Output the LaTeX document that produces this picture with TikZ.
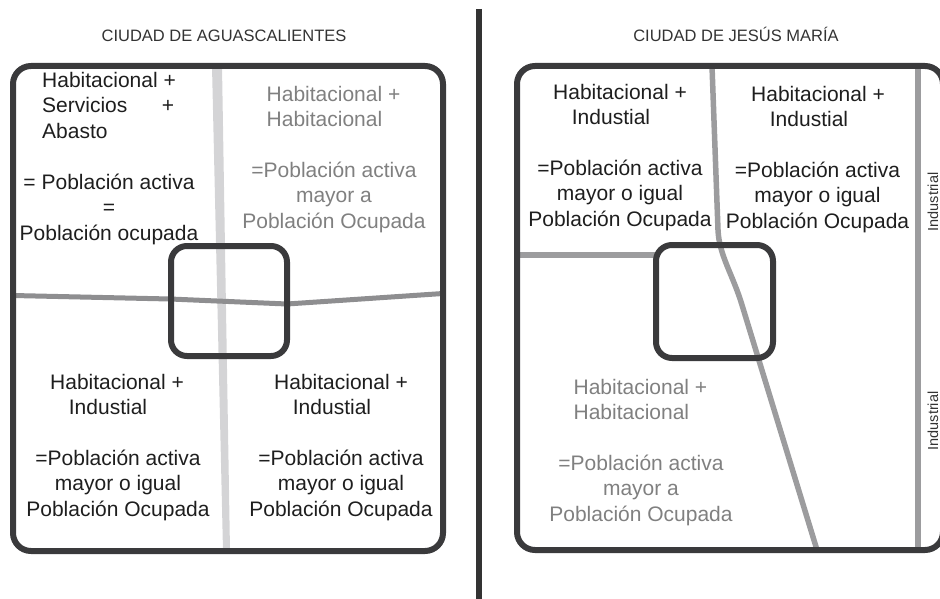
\documentclass[tikz,border=0pt]{standalone}
\usepackage{fontspec}
\setmainfont{Liberation Sans}
\definecolor{boxc}{HTML}{3A3A3C}
\definecolor{txtc}{HTML}{1E1E1E}
\definecolor{graytxt}{HTML}{808080}
\definecolor{titc}{HTML}{333333}
\definecolor{lightroad}{HTML}{D4D4D6}
\definecolor{roadc}{HTML}{8E8E90}
\definecolor{roadr}{HTML}{9C9C9E}
\definecolor{divc}{HTML}{333333}
\tikzset{
  txt/.style={font=\fontsize{21}{25.2}\selectfont, text=txtc, inner sep=0pt, anchor=north, align=center},
  txtl/.style={txt, anchor=north west, align=left},
  gtxt/.style={txt, text=graytxt},
  gtxtl/.style={txtl, text=graytxt},
  ttl/.style={font=\fontsize{16.5}{20}\selectfont, text=titc, inner sep=0pt, anchor=base},
  vlab/.style={font=\fontsize{14.5}{16}\selectfont, text=titc, inner sep=0pt, rotate=90},
  frame/.style={draw=boxc, line width=6pt, rounded corners=18pt},
  innerbox/.style={draw=boxc, line width=6pt, rounded corners=16pt},
  roadl/.style={draw=roadc, line width=5pt},
  roadrt/.style={draw=roadr, line width=5.5pt},
}
\newcommand\indgap{\rule{18pt}{0pt}}
\begin{document}
\begin{tikzpicture}[x=1pt,y=-1pt]
\useasboundingbox (0,0) rectangle (940,599);
\begin{scope}
\clip (0,0) rectangle (940,599);
% titles
\node[ttl] (t1) at (224,42) {CIUDAD DE AGUASCALIENTES};
\node[ttl] (t2) at (736,42) {CIUDAD DE JESÚS MARÍA};
% divider
\draw[divc, line width=6pt] (479,9) -- (479,599);
% left city roads
\fill[lightroad] (212,66) -- (222,66) -- (230,551) -- (223,551) -- cycle;
\draw[roadl] (13,295.5) -- (170,299) -- (287,304) -- (443,293.5);
% right city roads
\draw[roadrt] (712,66) -- (718,230) .. controls (719,255) and (733,275) .. (742,305) -- (817,550);
\draw[roadrt] (517,255) -- (656,255);
\draw[roadrt] (918,66) -- (918,550);
% boxes
\draw[frame] (13,66) rectangle (443,551);
\draw[innerbox] (171,246) rectangle (287,356);
\draw[frame] (517,66) rectangle (943,550);
\draw[innerbox] (656,245) rectangle (773,358);
% left city texts
\node[txtl] (a1) at (42,69.9) {\strut Habitacional +\\\strut\makebox[132pt][l]{Servicios\hfill +}\\\strut Abasto};
\node[txt] (a2) at (109,171.9) {\strut = Población activa\\\strut =\\\strut Población ocupada};
\node[gtxtl] (b1) at (266.5,83.9) {\strut Habitacional +\\\strut Habitacional};
\node[gtxt] (b2) at (334,159.9) {\strut =Población activa\\\strut mayor a\\\strut Población Ocupada};
\node[txt] (c1) at (117,371.9) {\strut Habitacional +\\\strut Industial\indgap};
\node[txt] (c2) at (118,447.9) {\strut =Población activa\\\strut mayor o igual\\\strut Población Ocupada};
\node[txt] (d1) at (341,371.9) {\strut Habitacional +\\\strut Industial\indgap};
\node[txt] (d2) at (341,447.9) {\strut =Población activa\\\strut mayor o igual\\\strut Población Ocupada};
% right city texts
\node[txt] (e1) at (620,81.9) {\strut Habitacional +\\\strut Industial\indgap};
\node[txt] (e2) at (620,157.9) {\strut =Población activa\\\strut mayor o igual\\\strut Población Ocupada};
\node[txt] (f1) at (818,83.9) {\strut Habitacional +\\\strut Industial\indgap};
\node[txt] (f2) at (817.5,159.9) {\strut =Población activa\\\strut mayor o igual\\\strut Población Ocupada};
\node[gtxtl] (g1) at (573.4,376.9) {\strut Habitacional +\\\strut Habitacional};
\node[gtxt] (g2) at (641,452.9) {\strut =Población activa\\\strut mayor a\\\strut Población Ocupada};
% side labels
\node[vlab] (i1) at (933,202) {Industrial};
\node[vlab] (i2) at (933,421) {Industrial};
\end{scope}
\end{tikzpicture}
\end{document}
